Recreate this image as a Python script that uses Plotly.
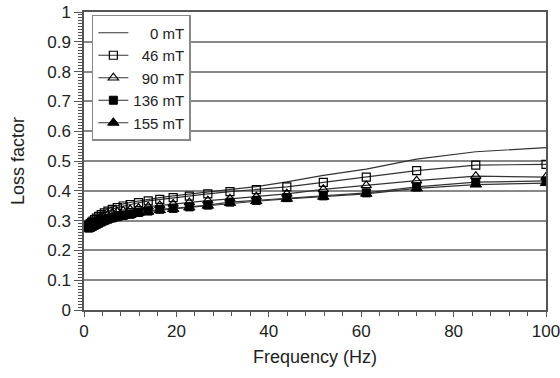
import plotly.graph_objects as go

freq = [1.0, 1.18, 1.39, 1.64, 1.93, 2.28, 2.68, 3.16, 3.73, 4.39, 5.18, 6.11, 7.2, 8.48,
        10.0, 11.8, 13.9, 16.4, 19.3, 22.8, 26.8, 31.6, 37.3, 43.9, 51.8, 61.1, 72.0, 84.8, 100.0]

loss_0 = [0.287, 0.290, 0.294, 0.298, 0.303, 0.309, 0.315, 0.321, 0.327, 0.333, 0.339, 0.345, 0.351, 0.356,
          0.361, 0.366, 0.372, 0.377, 0.383, 0.389, 0.396, 0.404, 0.414, 0.430, 0.452, 0.473, 0.506, 0.531, 0.545]
loss_46 = [0.284, 0.287, 0.290, 0.294, 0.298, 0.303, 0.308, 0.314, 0.320, 0.326, 0.332, 0.338, 0.344, 0.349,
           0.354, 0.360, 0.366, 0.371, 0.377, 0.382, 0.390, 0.397, 0.404, 0.413, 0.428, 0.446, 0.468, 0.486, 0.489]
loss_90 = [0.280, 0.282, 0.285, 0.288, 0.291, 0.295, 0.299, 0.304, 0.309, 0.314, 0.319, 0.324, 0.329, 0.333,
           0.337, 0.342, 0.347, 0.351, 0.356, 0.361, 0.367, 0.373, 0.380, 0.390, 0.405, 0.418, 0.434, 0.449, 0.446]
loss_136 = [0.275, 0.276, 0.278, 0.280, 0.282, 0.285, 0.288, 0.292, 0.296, 0.300, 0.305, 0.309, 0.313, 0.317,
            0.321, 0.327, 0.332, 0.338, 0.341, 0.346, 0.352, 0.362, 0.368, 0.377, 0.383, 0.393, 0.413, 0.429, 0.433]
loss_155 = [0.273, 0.274, 0.276, 0.278, 0.280, 0.283, 0.286, 0.290, 0.294, 0.298, 0.303, 0.307, 0.311, 0.315,
            0.319, 0.325, 0.330, 0.335, 0.339, 0.344, 0.350, 0.359, 0.365, 0.373, 0.380, 0.390, 0.408, 0.421, 0.426]

labels = ["\u2007\u20070 mT", "\u200746 mT", "\u200790 mT", "136 mT", "155 mT"]
x_ticks = [0, 20, 40, 60, 80, 100]
y_ticks = [0, 0.1, 0.2, 0.3, 0.4, 0.5, 0.6, 0.7, 0.8, 0.9, 1]
y_tick_text = ["0", "0.1", "0.2", "0.3", "0.4", "0.5", "0.6", "0.7", "0.8", "0.9", "1"]

series = [loss_0, loss_46, loss_90, loss_136, loss_155]
markers = [None,
           dict(symbol="square-open", size=8, color="black", line=dict(width=1.2, color="black")),
           dict(symbol="triangle-up-open", size=9, color="black", line=dict(width=1.2, color="black")),
           dict(symbol="square", size=8, color="black", line=dict(width=1, color="black")),
           dict(symbol="triangle-up", size=10, color="black", line=dict(width=1, color="black"))]

fig = go.Figure()
for name, ys, mk in zip(labels, series, markers):
    if mk is None:
        fig.add_trace(go.Scatter(x=freq, y=ys, mode="lines", name=name,
                                 line=dict(color="#333333", width=1.2)))
    else:
        fig.add_trace(go.Scatter(x=freq, y=ys, mode="lines+markers", name=name,
                                 line=dict(color="#333333", width=1.2), marker=mk))

font = "Liberation Sans, Arial, sans-serif"
fig.update_layout(
    width=560, height=378,
    margin=dict(l=84, r=14, t=12, b=68),
    paper_bgcolor="white", plot_bgcolor="white",
    font=dict(family=font, size=17, color="#222222"),
    showlegend=True,
    legend=dict(x=0.017, y=0.99, xanchor="left", yanchor="top",
                bgcolor="white", bordercolor="#888888", borderwidth=1.5,
                font=dict(family=font, size=15, color="#222222"),
                tracegroupgap=0, itemwidth=30),
    xaxis=dict(range=[0, 100], tickvals=x_ticks, ticklabeloverflow="allow",
               showgrid=False, zeroline=False, automargin=False,
               showline=True, linecolor="#555555", linewidth=1.5, mirror=True,
               ticks="outside", ticklen=5, tickcolor="#555555", tickwidth=1.2,
               minor=dict(dtick=4, ticks="outside", ticklen=4, tickcolor="#555555", tickwidth=1),
               title=dict(text="Frequency (Hz)", font=dict(size=18), standoff=10)),
    yaxis=dict(range=[0, 1], tickvals=y_ticks, ticktext=y_tick_text, ticklabeloverflow="allow",
               showgrid=True, gridcolor="#888888", gridwidth=1.5, zeroline=False, automargin=False,
               showline=True, linecolor="#555555", linewidth=1.5, mirror=True,
               ticks="outside", ticklen=8, tickcolor="#555555", tickwidth=1.2,
               minor=dict(dtick=0.01, ticks="outside", ticklen=4, tickcolor="#555555", tickwidth=1, showgrid=False),
               title=dict(text="Loss factor", font=dict(size=18), standoff=18)),
)

fig.write_html("out.html")
